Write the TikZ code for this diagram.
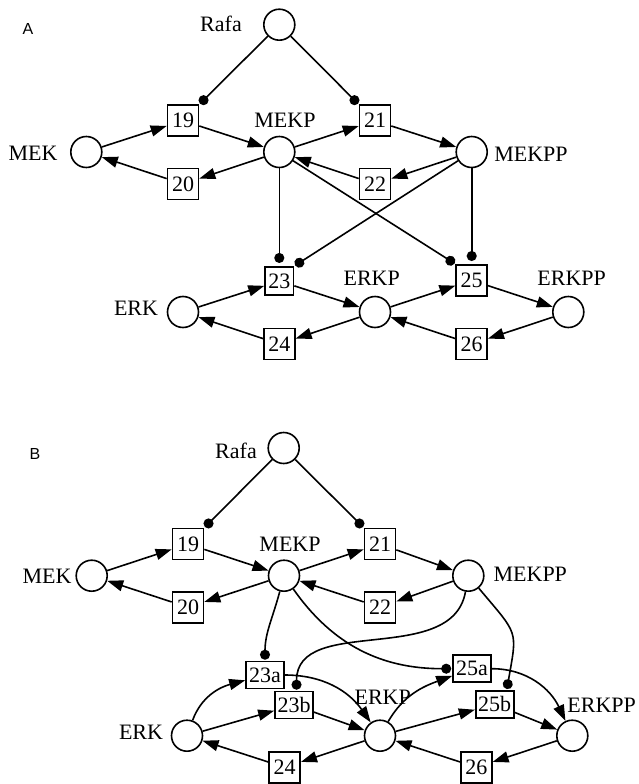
\documentclass[tikz,border=0pt]{standalone}
\usepackage{fontspec}
\setmainfont{Liberation Serif}
\setsansfont{Liberation Sans}
\usetikzlibrary{arrows.meta}

\tikzset{
  species/.style={circle, draw, line width=1.6pt, minimum size=31pt, inner sep=0pt},
  reaction/.style={rectangle, draw, line width=1.6pt, minimum size=31pt, inner sep=0pt,
    font=\fontsize{22}{24}\selectfont},
  subreaction/.style={reaction, minimum width=38pt, minimum height=27pt},
  specname/.style={inner sep=0pt, font=\fontsize{22}{24}\selectfont},
  paneltag/.style={inner sep=0pt, font=\sffamily\fontsize{16}{18}\selectfont},
  flow/.style={line width=1.6pt, -{Triangle[length=16pt,width=11pt]}},
  enzyme/.style={line width=1.6pt, -{Circle[length=10pt]}, shorten >=1pt},
}

\begin{document}
\begin{tikzpicture}[x=1pt,y=-1pt]
\useasboundingbox (0,0) rectangle (638,784);

%%% panel A
\node[paneltag] (tagA) at (28,29) {A};

\node[species] (rafaA) at (279.3,24.7) {};
\node[species] (mekA) at (86.3,152) {};
\node[species] (mekpA) at (279.3,152) {};
\node[species] (mekppA) at (471.7,152) {};
\node[species] (erkA) at (183,312) {};
\node[species] (erkpA) at (375,312) {};
\node[species] (erkppA) at (568.3,312) {};

\node[reaction] (r19A) at (183,120.7) {19};
\node[reaction] (r20A) at (183,184) {20};
\node[reaction] (r21A) at (375,120.7) {21};
\node[reaction] (r22A) at (375,184) {22};
\node[reaction, minimum size=28.5pt] (r23A) at (279.3,281) {23};
\node[reaction] (r24A) at (279.3,344) {24};
\node[reaction] (r25A) at (471.7,280.3) {25};
\node[reaction] (r26A) at (471.7,344) {26};

% species names
\node[specname] (nRafaA) at (221,23.5) {Rafa};
\node[specname] (nMekA) at (33,153) {MEK};
\node[specname] (nMekpA) at (285,120.7) {MEKP};
\node[specname] (nMekppA) at (531,154) {MEKPP};
\node[specname] (nErkA) at (136,308) {ERK};
\node[specname] (nErkpA) at (371.7,278.3) {ERKP};
\node[specname] (nErkppA) at (571.7,278.3) {ERKPP};

\foreach \s/\t in {mekA/r19A, r19A/mekpA, mekpA/r20A, r20A/mekA,
                   mekpA/r21A, r21A/mekppA, mekppA/r22A, r22A/mekpA,
                   erkA/r23A, r23A/erkpA, erkpA/r24A, r24A/erkA,
                   erkpA/r25A, r25A/erkppA, erkppA/r26A, r26A/erkpA}
{
    \draw[flow] (\s) -- (\t);
}

% enzymes
\draw[enzyme] (rafaA) -- (r19A.north east);
\draw[enzyme] (rafaA) -- (r21A.north west);
\draw[enzyme, shorten >=3pt] (mekpA) -- (r23A.north);
\draw[enzyme] (mekppA) -- (r23A.north east);
\draw[enzyme] (mekpA) -- (r25A.north west);
\draw[enzyme, shorten >=3pt] (mekppA) -- (r25A.north);

%%% panel B
\node[paneltag] (tagB) at (35,453.7) {B};

\node[species] (rafaB) at (283.7,448) {};
\node[species] (mekB) at (91.7,575.7) {};
\node[species] (mekpB) at (284,575.7) {};
\node[species] (mekppB) at (468.3,575.7) {};
\node[species] (erkB) at (187,735.7) {};
\node[species] (erkpB) at (380,735.7) {};
\node[species] (erkppB) at (572.3,735.7) {};

\node[reaction] (r19B) at (188,544) {19};
\node[reaction] (r20B) at (188,607.3) {20};
\node[reaction] (r21B) at (380,544) {21};
\node[reaction] (r22B) at (380,607.3) {22};
\node[subreaction] (r23aB) at (265,675) {23a};
\node[subreaction] (r23bB) at (294,705) {23b};
\node[reaction] (r24B) at (284.7,767.3) {24};
\node[subreaction] (r25aB) at (472,668.7) {25a};
\node[subreaction] (r25bB) at (494.7,704.3) {25b};
\node[reaction] (r26B) at (476.3,767.3) {26};

% species names
\node[specname] (nRafaB) at (236,451) {Rafa};
\node[specname] (nMekB) at (47,576.3) {MEK};
\node[specname] (nMekpB) at (290,544.7) {MEKP};
\node[specname] (nMekppB) at (530.3,574.7) {MEKPP};
\node[specname] (nErkB) at (141,732) {ERK};
\node[specname] (nErkpB) at (382.7,697) {ERKP};
\node[specname] (nErkppB) at (601.7,705.3) {ERKPP};

\foreach \s/\t in {mekB/r19B, r19B/mekpB, mekpB/r20B, r20B/mekB,
                   mekpB/r21B, r21B/mekppB, mekppB/r22B, r22B/mekpB,
                   erkB/r23bB, r23bB/erkpB, erkpB/r24B, r24B/erkB,
                   erkpB/r25bB, r25bB/erkppB, erkppB/r26B, r26B/erkpB}
{
    \draw[flow] (\s) -- (\t);
}

% curved flows through the a-steps
\draw[flow] (erkB) to[out=70,in=195] (r23aB);
\draw[flow] (r23aB) to[out=0,in=125] (erkpB);
\draw[flow] (erkpB) to[out=60,in=200] (r25aB);
\draw[flow] (r25aB) to[out=0,in=115] (erkppB);

% enzymes
\draw[enzyme] (rafaB) -- (r19B.north east);
\draw[enzyme] (rafaB) -- (r21B.north west);
\draw[enzyme] (mekpB) to[out=-105,in=90] (r23aB.north);
\draw[enzyme] (mekpB) to[out=-55,in=180] (r25aB.west);
\draw[enzyme] (mekppB) to[out=-100,in=90] (r23bB.80);
\draw[enzyme] (mekppB) to[out=-50,in=80,looseness=1.5] (r25bB.50);

\end{tikzpicture}
\end{document}
